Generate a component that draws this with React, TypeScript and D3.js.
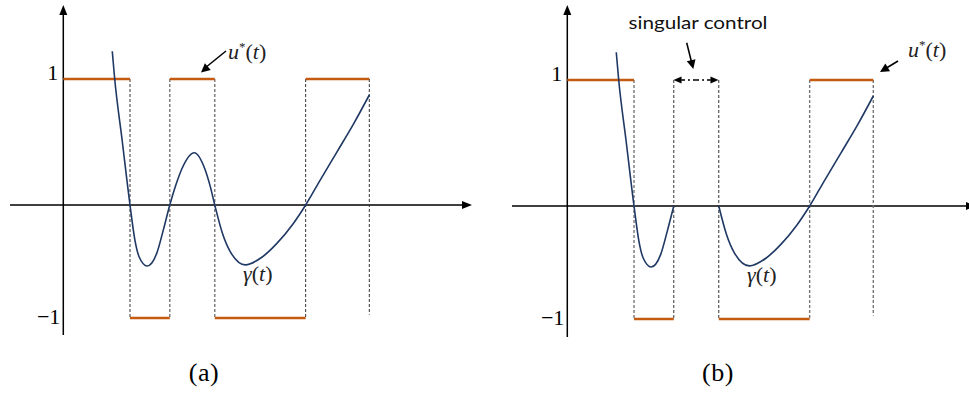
import React from "react";
import * as d3 from "d3";

// Switching times of the bang-bang control (shared by both panels)
const switchTimes = [2.18, 3.48, 4.95, 7.92, 10];
// Control value on each interval; null marks the singular arc
const controlA: (number | null)[] = [1, -1, 1, -1, 1];
const controlB: (number | null)[] = [1, -1, null, -1, 1];

// Switching function γ(t), sampled
const gammaT = [
  1.6, 1.68, 1.92, 2.18, 2.34, 2.48, 2.74, 3.05, 3.27, 3.48,
  3.68, 3.88, 4.28, 4.62, 4.8, 4.95, 5.2, 5.45, 5.95, 6.5,
  6.98, 7.5, 7.92, 8.4, 8.94, 9.5, 10.0,
];
const gammaV = [
  1.22, 1.0, 0.52, 0, -0.31, -0.46, -0.54, -0.43, -0.22, 0,
  0.16, 0.29, 0.415, 0.29, 0.15, 0, -0.25, -0.41, -0.53, -0.46,
  -0.34, -0.17, 0, 0.2, 0.42, 0.65, 0.873,
];

const levelLabels = ["1", "\u22121"];

const ORANGE = "#c55a11";
const NAVY = "#1f3864";
const MATH = "'Liberation Serif', 'DejaVu Serif', serif";

function arrowHead(x1: number, y1: number, x2: number, y2: number, len = 9, half = 4) {
  const a = Math.atan2(y2 - y1, x2 - x1);
  const bx = x2 - len * Math.cos(a);
  const by = y2 - len * Math.sin(a);
  const px = -Math.sin(a) * half;
  const py = Math.cos(a) * half;
  return `M${x2},${y2}L${bx + px},${by + py}L${bx - px},${by - py}Z`;
}

type PanelProps = {
  ox: number; // y-axis x position
  zeroY: number;
  topY: number;
  botY: number;
  control: (number | null)[];
  splitSingular: boolean;
  axisLeft: number;
  axisRight: number;
  axisBottom: number;
  dashColors: string[];
  label: string;
  labelX: number;
};

function Panel(p: PanelProps) {
  const x = d3.scaleLinear().domain([0, 10]).range([p.ox, p.ox + 306]);
  const y = d3.scaleLinear().domain([-1, 0, 1]).range([p.botY, p.zeroY, p.topY]);

  const pts = gammaT.map((t, i) => [t, gammaV[i]] as [number, number]);
  const pieces: [number, number][][] = p.splitSingular
    ? [pts.filter((d) => d[0] <= switchTimes[1]), pts.filter((d) => d[0] >= switchTimes[2])]
    : [pts];
  const line = d3
    .line<[number, number]>()
    .x((d) => x(d[0]))
    .y((d) => y(d[1]))
    .curve(d3.curveMonotoneX);

  const starts = [0, ...switchTimes.slice(0, -1)];
  const lastT = switchTimes[switchTimes.length - 1];

  return (
    <g>
      {/* axes */}
      <line x1={p.axisLeft} x2={p.axisRight - 6} y1={p.zeroY} y2={p.zeroY} stroke="#000" strokeWidth={1.5} />
      <path d={arrowHead(p.axisLeft, p.zeroY, p.axisRight, p.zeroY, 10, 4)} fill="#000" />
      <line x1={p.ox} x2={p.ox} y1={p.axisBottom} y2={11} stroke="#000" strokeWidth={1.5} />
      <path d={arrowHead(p.ox, p.axisBottom, p.ox, 5, 10, 4)} fill="#000" />

      {/* level labels */}
      <text x={p.ox - 5} y={y(1) + 1} textAnchor="end" fontFamily={MATH} fontSize={22}>
        {levelLabels[0]}
      </text>
      <text x={p.ox - 3} y={y(-1) + 6} textAnchor="end" fontFamily={MATH} fontSize={22}>
        {levelLabels[1]}
      </text>

      {/* switching guides */}
      {switchTimes.map((t, i) => (
        <line
          key={"d" + i}
          x1={x(t)}
          x2={x(t)}
          y1={y(1)}
          y2={t === lastT ? y(-0.97) : y(-1)}
          stroke={p.dashColors[i]}
          strokeWidth={p.dashColors[i] === "#333" ? 1 : 1.4}
          strokeDasharray="3,2"
        />
      ))}

      {/* control u*(t) */}
      {p.control.map((u, i) =>
        u === null ? null : (
          <line
            key={"u" + i}
            x1={x(starts[i])}
            x2={x(switchTimes[i])}
            y1={y(u)}
            y2={y(u)}
            stroke={ORANGE}
            strokeWidth={2.6}
          />
        )
      )}

      {/* switching function */}
      {pieces.map((pc, i) => (
        <path key={"g" + i} d={line(pc) || ""} fill="none" stroke={NAVY} strokeWidth={1.6} />
      ))}

      <text x={p.labelX} y={381} textAnchor="middle" fontFamily={MATH} fontSize={26} letterSpacing={0.5}>
        {p.label}
      </text>
    </g>
  );
}

function GammaLabel({ x0, y0 }: { x0: number; y0: number }) {
  return (
    <text x={x0} y={y0} fontFamily={MATH} fontSize={22} fill="#222">
      <tspan fontStyle="italic">γ</tspan>
      <tspan>(</tspan>
      <tspan fontStyle="italic">t</tspan>
      <tspan>)</tspan>
    </text>
  );
}

function ULabel({ x0, y0 }: { x0: number; y0: number }) {
  return (
    <text x={x0} y={y0} fontFamily={MATH} fontSize={22} fill="#222">
      <tspan fontStyle="italic">u</tspan>
      <tspan dy={-8} fontSize={13}>*</tspan>
      <tspan dy={8}>(</tspan>
      <tspan fontStyle="italic">t</tspan>
      <tspan>)</tspan>
    </text>
  );
}

export default function App() {
  return (
    <svg
      width={969}
      height={393}
      style={{ position: "absolute", left: 0, top: 0, background: "#fff", display: "block" }}
    >
      <Panel
        ox={63.3}
        zeroY={205}
        topY={79}
        botY={318}
        control={controlA}
        splitSingular={false}
        axisLeft={10}
        axisRight={472}
        axisBottom={335}
        dashColors={["#333", "#777", "#777", "#333", "#333"]}
        label="(a)"
        labelX={204}
      />
      <Panel
        ox={567.3}
        zeroY={206}
        topY={80}
        botY={319}
        control={controlB}
        splitSingular={true}
        axisLeft={512}
        axisRight={976}
        axisBottom={337}
        dashColors={["#777", "#333", "#333", "#777", "#777"]}
        label="(b)"
        labelX={718}
      />

      {/* annotations, panel (a) */}
      <ULabel x0={228} y0={59} />
      <line x1={226} y1={51} x2={205} y2={68} stroke="#000" strokeWidth={1.5} />
      <path d={arrowHead(226, 51, 201, 72.5, 9, 4.5)} fill="#000" />
      <GammaLabel x0={243} y0={281} />

      {/* annotations, panel (b) */}
      <ULabel x0={908} y0={57} />
      <line x1={898} y1={61} x2={884} y2={69.5} stroke="#000" strokeWidth={1.5} />
      <path d={arrowHead(898, 61, 880, 72, 9, 4.5)} fill="#000" />
      <GammaLabel x0={747} y0={282} />

      <text
        x={628.5}
        y={29}
        fontFamily="Lato, 'Open Sans', sans-serif"
        fontSize={17}
        textLength={139}
        lengthAdjust="spacingAndGlyphs"
        fill="#111"
      >
        singular control
      </text>
      <line x1={686.7} y1={42.7} x2={691.5} y2={62} stroke="#000" strokeWidth={1.5} />
      <path d={arrowHead(686.7, 42.7, 693.3, 69, 9, 4.5)} fill="#000" />

      {/* singular arc span */}
      <line x1={679} x2={713} y1={80} y2={80} stroke="#000" strokeWidth={1.3} strokeDasharray="6,3,2,3" />
      <path d={arrowHead(700, 80, 673.5, 80, 8, 3.5)} fill="#000" />
      <path d={arrowHead(690, 80, 718.5, 80, 8, 3.5)} fill="#000" />
    </svg>
  );
}
